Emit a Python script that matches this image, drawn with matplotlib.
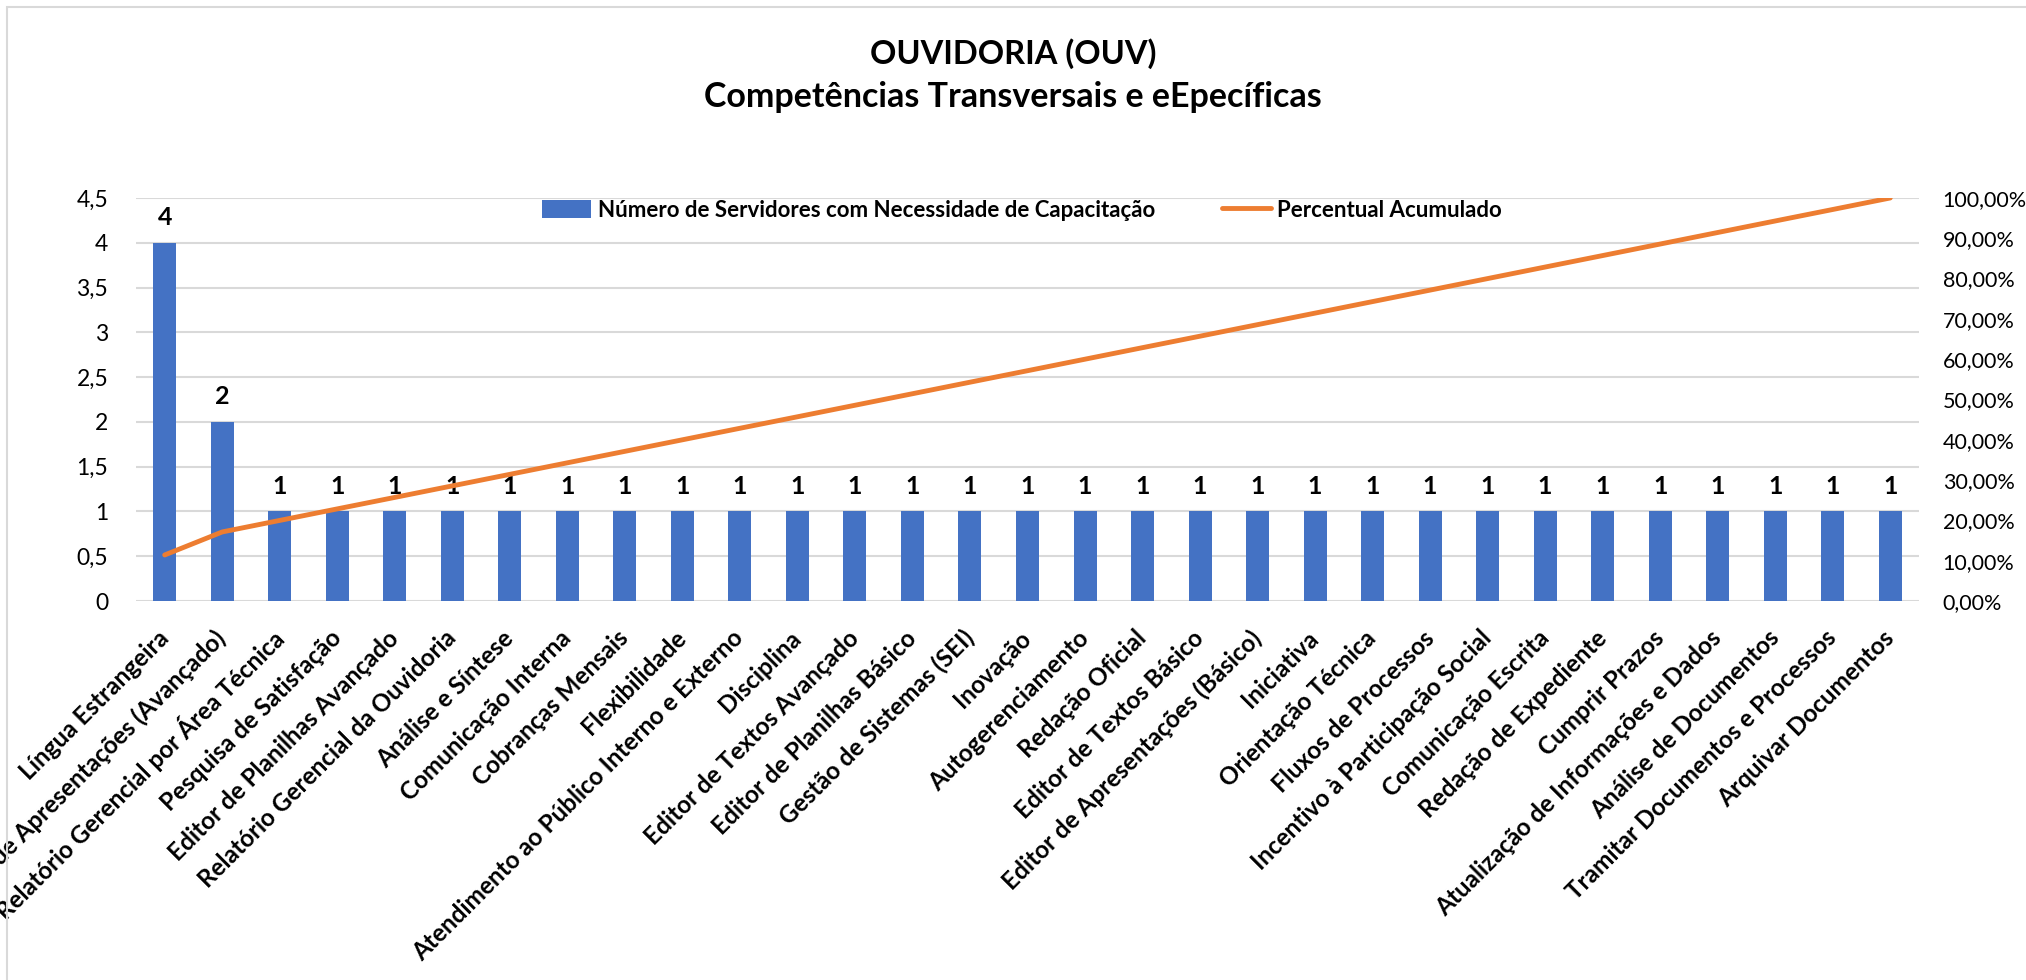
import matplotlib.pyplot as plt
from matplotlib.patches import Rectangle
from matplotlib.ticker import FuncFormatter

# Dados
competencias = [
    "Língua Estrangeira",
    "Editor de Apresentações (Avançado)",
    "Relatório Gerencial por Área Técnica",
    "Pesquisa de Satisfação",
    "Editor de Planilhas Avançado",
    "Relatório Gerencial da Ouvidoria",
    "Análise e Síntese",
    "Comunicação Interna",
    "Cobranças Mensais",
    "Flexibilidade",
    "Atendimento ao Público Interno e Externo",
    "Disciplina",
    "Editor de Textos Avançado",
    "Editor de Planilhas Básico",
    "Gestão de Sistemas (SEI)",
    "Inovação",
    "Autogerenciamento",
    "Redação Oficial",
    "Editor de Textos Básico",
    "Editor de Apresentações (Básico)",
    "Iniciativa",
    "Orientação Técnica",
    "Fluxos de Processos",
    "Incentivo à Participação Social",
    "Comunicação Escrita",
    "Redação de Expediente",
    "Cumprir Prazos",
    "Atualização de Informações e Dados",
    "Análise de Documentos",
    "Tramitar Documentos e Processos",
    "Arquivar Documentos",
]
servidores = [4, 2] + [1] * 29
percentual_acumulado = [
    11.43, 17.14, 20.00, 22.86, 25.71, 28.57, 31.43, 34.29, 37.14, 40.00,
    42.86, 45.71, 48.57, 51.43, 54.29, 57.14, 60.00, 62.86, 65.71, 68.57,
    71.43, 74.29, 77.14, 80.00, 82.86, 85.71, 88.57, 91.43, 94.29, 97.14,
    100.00,
]

plt.rcParams['font.family'] = ['Lato', 'DejaVu Sans']

AZUL = '#4472C4'
LARANJA = '#ED7D31'
GRADE = '#D9D9D9'

fig = plt.figure(figsize=(20.26, 9.8), dpi=100)
ax = fig.add_axes([0.0671, 0.3867, 0.8801, 0.4113])
ax2 = ax.twinx()

x = list(range(len(competencias)))
barras = ax.bar(x, servidores, width=0.4, color=AZUL, zorder=2,
                label='Número de Servidores com Necessidade de Capacitação')
for xi, v in zip(x, servidores):
    ax.annotate(str(v), (xi, v), xytext=(0, 10), textcoords='offset points',
                ha='center', va='bottom', fontsize=18, fontweight='bold')

linha, = ax2.plot(x, percentual_acumulado, color=LARANJA, linewidth=3.5,
                  solid_capstyle='round', label='Percentual Acumulado')

ax.set_xlim(-0.5, len(competencias) - 0.5)
ax.set_ylim(0, 4.5)
ax.set_yticks([0, 0.5, 1, 1.5, 2, 2.5, 3, 3.5, 4, 4.5])
ax.yaxis.set_major_formatter(FuncFormatter(lambda v, p: f'{v:g}'.replace('.', ',')))
ax2.set_ylim(0, 100)
ax2.set_yticks(range(0, 101, 10))
ax2.yaxis.set_major_formatter(FuncFormatter(lambda v, p: f'{v:.2f}'.replace('.', ',') + '%'))

ax.grid(axis='y', color=GRADE, linewidth=1.5, zorder=0)
ax.set_axisbelow(True)
for a in (ax, ax2):
    for s in a.spines.values():
        s.set_visible(False)
    a.tick_params(length=0, labelsize=15.5)
ax.tick_params(axis='y', pad=20, labelsize=16.5)
ax2.tick_params(axis='y', pad=17)

ax.set_xticks(x)
ax.set_xticklabels(competencias, rotation=45, ha='right', va='center',
                   rotation_mode='anchor', fontsize=17.5, fontweight='bold')
ax.tick_params(axis='x', pad=24)

ax.legend([barras, linha],
          ['Número de Servidores com Necessidade de Capacitação', 'Percentual Acumulado'],
          loc='upper center', bbox_to_anchor=(0.497, 1.045), ncol=2, frameon=False,
          prop={'weight': 'bold', 'size': 16}, handlelength=2.2, handleheight=0.9,
          columnspacing=3.0, handletextpad=0.3)

fig.text(0.5, 0.945, 'OUVIDORIA (OUV)', ha='center', va='center',
         fontsize=23.5, fontweight='bold')
fig.text(0.5, 0.901, 'Competências Transversais e eEpecíficas', ha='center', va='center',
         fontsize=24.5, fontweight='bold')

fig.patches.append(Rectangle((7 / 2026, -0.05), 1.1, 1.05 - 7 / 980, transform=fig.transFigure,
                             fill=False, edgecolor=GRADE, linewidth=1.5))

fig.savefig('out.png', dpi=100)
